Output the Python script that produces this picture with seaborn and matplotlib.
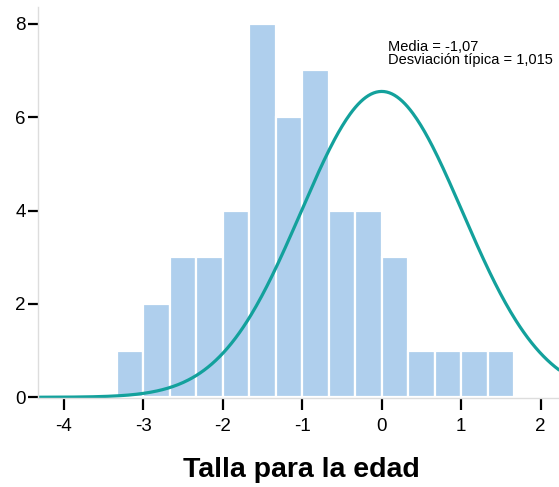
import numpy as np
import pandas as pd
import matplotlib
matplotlib.use("Agg")
import matplotlib.pyplot as plt
import seaborn as sns

# Histogram data (bin width 1/3)
bin_start = -10 / 3
bin_width = 1 / 3
counts = [1, 2, 3, 3, 4, 8, 6, 7, 4, 4, 3, 1, 1, 1, 1]

# Normal curve parameters as drawn
curve_center = 0.0
curve_sd = 1.015
curve_n = 50

x_ticks = [-4, -3, -2, -1, 0, 1, 2]
y_ticks = [0, 2, 4, 6, 8]
x_label = "Talla para la edad"
stats_text = "Media = -1,07\nDesviación típica = 1,015"

sns.set_style("white")
plt.rcParams["font.family"] = ["Liberation Sans", "DejaVu Sans"]
plt.rcParams["text.color"] = "black"
plt.rcParams["axes.labelcolor"] = "black"
plt.rcParams["xtick.color"] = "black"
plt.rcParams["ytick.color"] = "black"

edges = [float(bin_start + bin_width * i) for i in range(len(counts) + 1)]
centers = [(edges[i] + edges[i + 1]) / 2 for i in range(len(counts))]
df = pd.DataFrame({"x": centers, "w": counts})

fig = plt.figure(figsize=(5.59, 4.87), dpi=100)
ax = fig.add_axes([0.0685, 0.1828, 0.9315, 0.8029])

sns.histplot(data=df, x="x", weights="w", bins=edges, ax=ax,
             color="#AFCFED", alpha=1, edgecolor="white", linewidth=1.6)

xmin, xmax = -4.32, 2.23
xs = np.linspace(xmin, xmax, 400)
ys = curve_n * bin_width / (curve_sd * np.sqrt(2 * np.pi)) * np.exp(-0.5 * ((xs - curve_center) / curve_sd) ** 2)
curve = pd.DataFrame({"x": xs, "y": ys})
sns.lineplot(data=curve, x="x", y="y", ax=ax, color="#13A19C", linewidth=2.3)
ax.plot([xmin, -3.55], [-0.04, -0.04], color="#7FD3D1", linewidth=1.3, zorder=1)

ax.set_xlim(xmin, xmax)
ax.set_ylim(-0.015, 8.36)
ax.set_xticks(x_ticks)
ax.set_xticklabels([str(t) for t in x_ticks])
ax.set_yticks(y_ticks)
ax.set_yticklabels([str(t) for t in y_ticks])

for s in ["top", "right"]:
    ax.spines[s].set_visible(False)
for s in ["left", "bottom"]:
    ax.spines[s].set_color("#DDDDDD")
    ax.spines[s].set_linewidth(1.0)

ax.tick_params(axis="x", direction="out", length=8.5, width=1.6, color="black",
               labelsize=13.5, pad=6, bottom=True)
ax.tick_params(axis="y", direction="out", length=7, width=1.6, color="black",
               labelsize=13.5, pad=2, left=True)

ax.set_xlabel("")
ax.set_ylabel("")
fig.text(301 / 559, 1 - 477 / 487, x_label, fontsize=20.5, fontweight="bold",
         ha="center", va="baseline")

ax.text(388, 487 - 40, stats_text, transform=None, fontsize=10.5,
        ha="left", va="top", linespacing=0.9)

fig.savefig("out.png", dpi=100)
